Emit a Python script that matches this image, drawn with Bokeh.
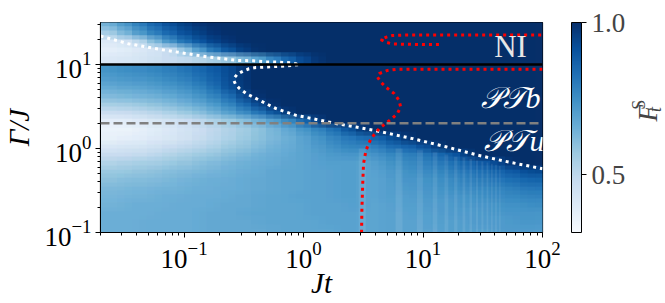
import math
import numpy as np
from bokeh.plotting import figure
from bokeh.layouts import row
from bokeh.models import (LinearColorMapper, ColorBar, FixedTicker, Span, Label,
                          PrintfTickFormatter, Range1d)
from bokeh.palettes import Blues256
from bokeh.embed import file_html
from bokeh.resources import INLINE

# ---------------- data ----------------
# image grid: 30 columns, equal steps of log10(Jt) between these edges
grid_log_jt = (-1.75, 2.0)
# lower block: Gamma/J from 0.1 to 10, 20 rows (bottom -> top), 0.1 decade each
fid_lower = [
    [0.65,0.65,0.65,0.66,0.66,0.66,0.66,0.67,0.67,0.67,0.67,0.67,0.68,0.68,0.68,0.68,0.69,0.69,0.68,0.69,0.69,0.69,0.69,0.70,0.70,0.70,0.70,0.71,0.71,0.71],
    [0.65,0.65,0.65,0.66,0.66,0.66,0.66,0.67,0.67,0.67,0.67,0.68,0.68,0.68,0.68,0.69,0.69,0.69,0.68,0.69,0.69,0.69,0.70,0.70,0.70,0.71,0.71,0.71,0.72,0.72],
    [0.65,0.65,0.65,0.65,0.66,0.66,0.66,0.67,0.67,0.67,0.68,0.68,0.68,0.68,0.69,0.69,0.69,0.69,0.68,0.69,0.69,0.70,0.70,0.71,0.71,0.71,0.72,0.72,0.73,0.73],
    [0.64,0.64,0.65,0.65,0.65,0.66,0.66,0.66,0.67,0.67,0.67,0.68,0.68,0.68,0.69,0.69,0.69,0.70,0.68,0.69,0.70,0.70,0.71,0.71,0.72,0.72,0.73,0.74,0.74,0.75],
    [0.63,0.63,0.64,0.64,0.65,0.65,0.66,0.66,0.66,0.67,0.67,0.68,0.68,0.69,0.69,0.69,0.70,0.70,0.68,0.70,0.70,0.71,0.72,0.72,0.73,0.74,0.75,0.76,0.77,0.78],
    [0.62,0.62,0.63,0.63,0.64,0.64,0.65,0.65,0.66,0.66,0.67,0.67,0.68,0.68,0.69,0.69,0.70,0.70,0.68,0.70,0.71,0.72,0.73,0.74,0.75,0.76,0.77,0.78,0.80,0.81],
    [0.60,0.60,0.61,0.61,0.62,0.63,0.64,0.65,0.65,0.66,0.67,0.67,0.68,0.68,0.69,0.69,0.70,0.70,0.68,0.70,0.72,0.73,0.74,0.75,0.77,0.79,0.80,0.82,0.84,0.86],
    [0.57,0.57,0.58,0.59,0.60,0.61,0.62,0.63,0.64,0.65,0.66,0.67,0.68,0.68,0.69,0.69,0.70,0.70,0.68,0.71,0.73,0.75,0.76,0.78,0.80,0.82,0.84,0.87,0.90,0.93],
    [0.52,0.53,0.54,0.55,0.56,0.58,0.59,0.61,0.62,0.64,0.65,0.66,0.67,0.68,0.69,0.70,0.70,0.70,0.69,0.73,0.75,0.77,0.79,0.81,0.84,0.87,0.90,0.96,1.00,1.00],
    [0.47,0.47,0.48,0.49,0.51,0.53,0.55,0.57,0.59,0.61,0.63,0.65,0.66,0.68,0.69,0.71,0.72,0.73,0.72,0.76,0.78,0.80,0.83,0.86,0.92,1.00,1.00,1.00,1.00,1.00],
    [0.41,0.42,0.43,0.44,0.46,0.48,0.50,0.52,0.55,0.58,0.60,0.63,0.65,0.67,0.70,0.73,0.76,0.78,0.77,0.82,0.85,0.88,0.93,1.00,1.00,1.00,1.00,1.00,1.00,1.00],
    [0.36,0.37,0.38,0.39,0.41,0.43,0.46,0.49,0.52,0.55,0.58,0.61,0.64,0.67,0.71,0.75,0.79,0.82,0.85,0.89,0.95,1.00,1.00,1.00,1.00,1.00,1.00,1.00,1.00,1.00],
    [0.35,0.35,0.36,0.38,0.40,0.42,0.45,0.48,0.51,0.54,0.57,0.61,0.65,0.70,0.75,0.80,0.86,0.94,1.00,1.00,1.00,1.00,1.00,1.00,1.00,1.00,1.00,1.00,1.00,1.00],
    [0.38,0.38,0.39,0.41,0.43,0.45,0.48,0.51,0.55,0.58,0.62,0.67,0.73,0.80,0.90,1.00,1.00,1.00,1.00,1.00,1.00,1.00,1.00,1.00,1.00,1.00,1.00,1.00,1.00,1.00],
    [0.46,0.47,0.48,0.50,0.52,0.55,0.58,0.62,0.67,0.72,0.78,0.85,0.94,1.00,1.00,1.00,1.00,1.00,1.00,1.00,1.00,1.00,1.00,1.00,1.00,1.00,1.00,1.00,1.00,1.00],
    [0.54,0.55,0.56,0.58,0.60,0.62,0.65,0.69,0.74,0.80,0.88,0.97,1.00,1.00,1.00,1.00,1.00,1.00,1.00,1.00,1.00,1.00,1.00,1.00,1.00,1.00,1.00,1.00,1.00,1.00],
    [0.61,0.62,0.63,0.64,0.66,0.68,0.71,0.75,0.80,0.87,0.97,1.00,1.00,1.00,1.00,1.00,1.00,1.00,1.00,1.00,1.00,1.00,1.00,1.00,1.00,1.00,1.00,1.00,1.00,1.00],
    [0.66,0.67,0.68,0.69,0.71,0.73,0.76,0.80,0.86,0.94,1.00,1.00,1.00,1.00,1.00,1.00,1.00,1.00,1.00,1.00,1.00,1.00,1.00,1.00,1.00,1.00,1.00,1.00,1.00,1.00],
    [0.70,0.71,0.72,0.73,0.75,0.77,0.80,0.84,0.88,0.95,1.00,1.00,1.00,1.00,1.00,1.00,1.00,1.00,1.00,1.00,1.00,1.00,1.00,1.00,1.00,1.00,1.00,1.00,1.00,1.00],
    [0.73,0.74,0.75,0.76,0.78,0.80,0.83,0.86,0.90,0.95,1.00,1.00,1.00,1.00,1.00,1.00,1.00,1.00,1.00,1.00,1.00,1.00,1.00,1.00,1.00,1.00,1.00,1.00,1.00,1.00],
]
# upper block: Gamma/J from 10 to 10**1.5, 5 rows (bottom -> top)
fid_upper = [
    [0.40,0.41,0.42,0.44,0.46,0.48,0.50,0.53,0.56,0.60,0.66,0.74,0.82,0.90,0.96,1.00,1.00,1.00,1.00,1.00,1.00,1.00,1.00,1.00,1.00,1.00,1.00,1.00,1.00,1.00],
    [0.37,0.38,0.40,0.42,0.45,0.52,0.65,0.77,0.86,0.93,0.98,1.00,1.00,1.00,1.00,1.00,1.00,1.00,1.00,1.00,1.00,1.00,1.00,1.00,1.00,1.00,1.00,1.00,1.00,1.00],
    [0.40,0.42,0.46,0.56,0.68,0.78,0.86,0.92,0.96,0.99,1.00,1.00,1.00,1.00,1.00,1.00,1.00,1.00,1.00,1.00,1.00,1.00,1.00,1.00,1.00,1.00,1.00,1.00,1.00,1.00],
    [0.52,0.59,0.67,0.75,0.82,0.88,0.93,0.97,0.99,1.00,1.00,1.00,1.00,1.00,1.00,1.00,1.00,1.00,1.00,1.00,1.00,1.00,1.00,1.00,1.00,1.00,1.00,1.00,1.00,1.00],
    [0.62,0.68,0.75,0.82,0.88,0.93,0.97,0.99,1.00,1.00,1.00,1.00,1.00,1.00,1.00,1.00,1.00,1.00,1.00,1.00,1.00,1.00,1.00,1.00,1.00,1.00,1.00,1.00,1.00,1.00],
]
# light oscillation stripes in the PT-unbroken region (Jt position, upper Gamma end)
stripe_jt = [3.1, 6.3, 9.4, 12.6, 15.7, 18.8, 22.0, 25.1, 28.3, 31.4, 34.6, 37.7, 40.8, 44.0]
stripe_top = [1.0, 1.0, 0.95, 0.9, 0.85, 0.8, 0.78, 0.75, 0.72, 0.7, 0.68, 0.66, 0.64, 0.62]

# white dotted boundaries
white_top_jt = [0.02, 0.034, 0.057, 0.095, 0.158, 0.28, 0.378, 0.49, 0.63, 0.79, 0.9]
white_top_g = [21.8, 17.7, 15.5, 13.8, 12.3, 11.2, 11.06, 10.76, 10.65, 10.47, 10.1]
white_c_jt = [0.9, 0.7, 0.5, 0.4, 0.35, 0.31, 0.28, 0.265, 0.262, 0.27, 0.29, 0.333, 0.43,
              0.59, 0.87, 1.28, 1.87, 2.75, 4.1, 8.2, 15.5, 29.0, 52.0, 100.0]
white_c_g = [9.9, 9.6, 9.35, 9.2, 8.9, 8.3, 7.7, 7.0, 6.4, 5.8, 5.2, 4.5, 3.74,
             2.98, 2.48, 2.22, 1.98, 1.80, 1.62, 1.31, 1.05, 0.83, 0.69, 0.575]
# red dotted boundaries
red_ni_jt = [13.6, 10.0, 7.0, 5.5, 4.9, 4.44, 4.9, 5.5, 7.0, 10.0, 30.0, 100.0]
red_ni_g = [17.3, 17.3, 17.4, 17.6, 18.4, 19.8, 21.1, 22.1, 22.4, 22.5, 22.5, 22.5]
red_pt_jt = [100.0, 30.0, 10.0, 6.0, 5.04, 4.3, 4.16, 4.44, 4.88, 5.74, 6.3, 6.5, 6.1,
             5.38, 4.3, 3.67, 3.33, 3.18, 3.13, 3.08, 3.06]
red_pt_g = [8.8, 8.8, 8.8, 8.75, 8.5, 7.8, 7.07, 6.17, 5.38, 4.5, 3.74, 3.11, 2.6,
            2.22, 1.73, 1.31, 0.95, 0.66, 0.38, 0.186, 0.1]

gamma_ni = 10.0     # black line
gamma_pt = 2.0      # grey dashed line
cbar_low, cbar_high = 0.31, 1.0
cbar_ticks = [0.5, 1.0]
x_major = [0.1, 1.0, 10.0, 100.0]
y_major = [0.1, 1.0, 10.0]
region_labels = ["NI", "\U0001D4AB\U0001D4AFb", "\U0001D4AB\U0001D4AFu"]

# ---------------- layout constants ----------------
X_MIN, X_MAX = 0.02, 100.0
Y_MIN, Y_MAX = 0.1, 10 ** 1.5
FL, FT, FW, FH = 100, 22, 443, 210   # frame left/top/width/height (px)
H = 303
W1 = 628              # main figure width (frame + colour bar)
W2 = 665 - W1         # narrow figure holding the colour-bar title
SERIF = "Liberation Serif"


def px_to_data(fx, fy):
    lx = math.log10(X_MIN) + (fx - FL) / FW * (math.log10(X_MAX) - math.log10(X_MIN))
    ly = math.log10(Y_MAX) - (fy - FT) / FH * (math.log10(Y_MAX) - math.log10(Y_MIN))
    return 10 ** lx, 10 ** ly


p = figure(width=W1, height=H, x_axis_type="log", y_axis_type="log",
           x_range=Range1d(X_MIN, X_MAX), y_range=Range1d(Y_MIN, Y_MAX),
           output_backend="svg", toolbar_location=None,
           min_border_left=FL, min_border_right=W1 - FL - FW,
           min_border_top=FT, min_border_bottom=H - FT - FH)
p.grid.visible = False
p.outline_line_color = "black"
p.outline_line_width = 1.2
p.background_fill_color = "white"

mapper = LinearColorMapper(palette=list(reversed(Blues256)), low=cbar_low, high=cbar_high)

# heat map: the same grid drawn in a few slightly offset, semi-transparent copies
# (pure rendering: softens the cell edges the way the original raster looks)
ncol = len(fid_lower[0])
col_w = (grid_log_jt[1] - grid_log_jt[0]) / ncol
row_h = 0.1
arr_lower = np.array(fid_lower)
arr_upper = np.array(fid_upper)


def draw_block(arr, log_y0, log_y1, ydir):
    offsets = [(0, 0), (0.5, 0), (-0.5, 0), (0, ydir), (0.5, ydir), (-0.5, ydir)]
    for k, (dc, dr) in enumerate(offsets):
        xa = 10 ** (grid_log_jt[0] + dc * col_w)
        xb = 10 ** (grid_log_jt[1] + dc * col_w)
        ya = 10 ** (log_y0 + dr * row_h)
        yb = 10 ** (log_y1 + dr * row_h)
        p.image(image=[arr], x=xa, y=ya, dw=xb - xa, dh=yb - ya,
                color_mapper=mapper, global_alpha=1.0 / (k + 1))


draw_block(arr_lower, math.log10(Y_MIN), math.log10(gamma_ni), -0.5)
draw_block(arr_upper, math.log10(gamma_ni), math.log10(Y_MAX), 0.5)

# stripes: width proportional to local spacing (style only)
px_per_dec = FW / (math.log10(X_MAX) - math.log10(X_MIN))
for i, (sj, st) in enumerate(zip(stripe_jt, stripe_top)):
    nxt = stripe_jt[i + 1] if i + 1 < len(stripe_jt) else sj * 1.07
    spacing = px_per_dec * math.log10(nxt / sj)
    w = max(1.0, min(7.0, 0.4 * spacing))
    p.segment(x0=[sj], y0=[Y_MIN], x1=[sj], y1=[st], line_color="white",
              line_alpha=0.09, line_width=w)

dot = dict(line_width=3, line_dash="3 4", line_cap="butt")
p.line(white_top_jt, white_top_g, line_color="white", **dot)
p.line(white_c_jt, white_c_g, line_color="white", **dot)
p.line(red_ni_jt, red_ni_g, line_color="red", **dot)
p.line(red_pt_jt, red_pt_g, line_color="red", **dot)

p.add_layout(Span(location=gamma_ni, dimension="width", line_color="black", line_width=2.5))
p.add_layout(Span(location=gamma_pt, dimension="width", line_color="#808080",
                  line_width=2.5, line_dash="9 4"))


def minors(lo, hi):
    out = []
    for e in range(-3, 3):
        for m in range(2, 10):
            v = m * 10 ** e
            if lo <= v <= hi:
                out.append(v)
    return out


p.xaxis.ticker = FixedTicker(ticks=x_major, minor_ticks=minors(X_MIN, X_MAX))
p.yaxis.ticker = FixedTicker(ticks=y_major, minor_ticks=minors(Y_MIN, Y_MAX))
for ax in (p.xaxis[0], p.yaxis[0]):
    ax.major_label_text_font = SERIF
    ax.major_label_text_font_size = "27px"
    ax.major_label_text_color = "black"
    ax.axis_line_color = "black"
    ax.major_tick_line_color = "black"
    ax.minor_tick_line_color = "black"
    ax.major_tick_in = 0
    ax.major_tick_out = 5
    ax.minor_tick_in = 0
    ax.minor_tick_out = 3
    ax.major_label_standoff = 4
    ax.axis_label_text_font = SERIF
    ax.axis_label_text_font_size = "29px"
    ax.axis_label_text_font_style = "italic"
    ax.axis_label_text_color = "black"
p.xaxis.axis_label = "Jt"
p.xaxis.axis_label_standoff = -4
p.yaxis.axis_label = "\u0393/J"
p.yaxis.axis_label_standoff = 6

# colour bar in the right panel of the main figure
cb = ColorBar(color_mapper=mapper, ticker=FixedTicker(ticks=cbar_ticks),
              formatter=PrintfTickFormatter(format="%.1f"),
              width=10, height=FH, padding=0, margin=0, location=(29, 0),
              bar_line_color="black", bar_line_width=1,
              major_tick_line_color="black", major_tick_in=0, major_tick_out=5,
              minor_tick_line_color=None,
              major_label_text_font=SERIF, major_label_text_font_size="27px",
              label_standoff=5,
              background_fill_color=None, border_line_color=None)
p.add_layout(cb, "right")

# region labels (inside the frame)
lx, ly = px_to_data(511, 46)
p.add_layout(Label(x=lx, y=ly, text=region_labels[0], text_font=SERIF, text_font_size="31px",
                   text_color="#e6e6e6", text_align="center", text_baseline="alphabetic"))
lx, ly = px_to_data(541, 97)
p.add_layout(Label(x=lx, y=ly, text=region_labels[1], text_font=SERIF, text_font_size="30px",
                   text_font_style="italic", text_color="white", text_align="right",
                   text_baseline="alphabetic"))
lx, ly = px_to_data(545, 140)
p.add_layout(Label(x=lx, y=ly, text=region_labels[2], text_font=SERIF, text_font_size="30px",
                   text_font_style="italic", text_color="white", text_align="right",
                   text_baseline="alphabetic"))

# ---------------- colour-bar title panel ----------------
p2 = figure(width=W2, height=H, x_range=Range1d(0, W2), y_range=Range1d(0, H),
            output_backend="svg", toolbar_location=None, min_border=0,
            x_axis_location=None, y_axis_location=None)
p2.grid.visible = False
p2.outline_line_color = None
p2.background_fill_color = "white"

# F_t^S rotated to read upwards
p2.add_layout(Label(x=647 - W1, y=H - 143, text="F", text_font=SERIF, text_font_size="27px",
                    text_font_style="italic", text_align="left", text_baseline="alphabetic",
                    angle=math.pi / 2))
p2.add_layout(Label(x=638 - W1, y=H - 126, text="S", text_font=SERIF, text_font_size="18px",
                    text_align="left", text_baseline="alphabetic", angle=math.pi / 2))
p2.add_layout(Label(x=654 - W1, y=H - 129, text="t", text_font=SERIF, text_font_size="18px",
                    text_font_style="italic", text_align="left", text_baseline="alphabetic",
                    angle=math.pi / 2))

layout = row(p, p2)
open("out.html", "w").write(file_html(layout, INLINE))
